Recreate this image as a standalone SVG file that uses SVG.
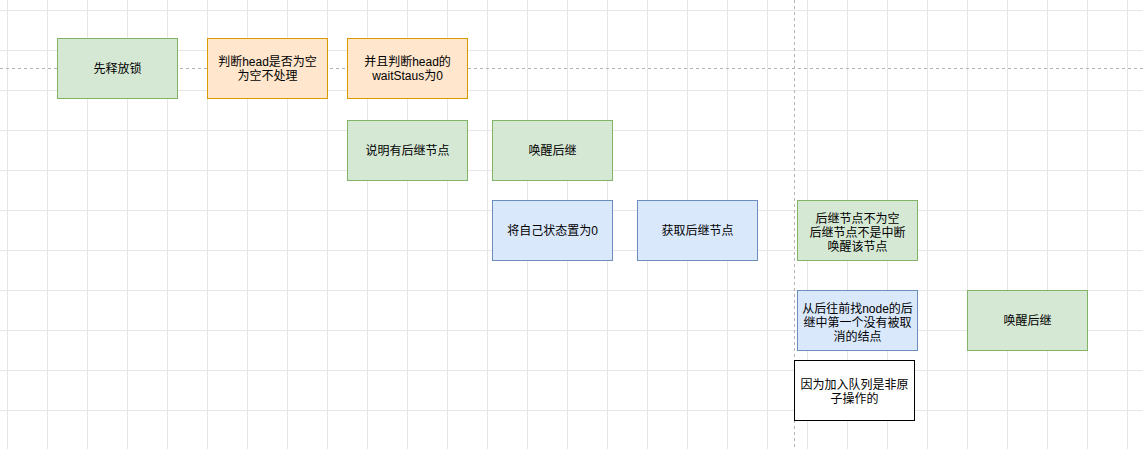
<svg xmlns="http://www.w3.org/2000/svg" width="1143" height="449" viewBox="0 0 1143 449">
<defs>
<pattern id="grid" x="7" y="10" width="40" height="40" patternUnits="userSpaceOnUse">
<path d="M0 0.5H40M0.5 0V40" fill="none" stroke="#e6e6e6" stroke-width="1"/>
</pattern>
<style>
.n rect{stroke-width:1}
.g rect{fill:#d5e8d4;stroke:#82b366}
.o rect{fill:#ffe6cc;stroke:#d79b00}
.b rect{fill:#dae8fc;stroke:#6c8ebf}
.w rect{fill:#ffffff;stroke:#000000}
text{font-family:"Liberation Sans","Noto Sans CJK SC",sans-serif;font-size:12px;fill:#000;text-anchor:middle}
.guide{stroke:#b3b3b3;stroke-width:1;stroke-dasharray:3 3;fill:none}
</style>
</defs>
<rect width="1143" height="449" fill="#ffffff"/>
<rect width="1143" height="449" fill="url(#grid)"/>
<g id="connectors">
<path class="guide" d="M0 68.5H1143"/>
<path class="guide" d="M794.5 0V449"/>
</g>
<g id="n1" class="n g"><rect x="57.5" y="38.5" width="120" height="60"/><text x="117.5" y="72.5">先释放锁</text></g>
<g id="n2" class="n o"><rect x="207.5" y="38.5" width="120" height="60"/><text x="267.5" y="65.5">判断head是否为空</text><text x="267.5" y="79.5">为空不处理</text></g>
<g id="n3" class="n o"><rect x="347.5" y="38.5" width="120" height="60"/><text x="407.5" y="65.5">并且判断head的</text><text x="407.5" y="79.5">waitStaus为0</text></g>
<g id="n4" class="n g"><rect x="347.5" y="120.5" width="120" height="60"/><text x="407.5" y="154.5">说明有后继节点</text></g>
<g id="n5" class="n g"><rect x="492.5" y="120.5" width="120" height="60"/><text x="552.5" y="154.5">唤醒后继</text></g>
<g id="n6" class="n b"><rect x="492.5" y="200.5" width="120" height="60"/><text x="552.5" y="234.5">将自己状态置为0</text></g>
<g id="n7" class="n b"><rect x="637.5" y="200.5" width="120" height="60"/><text x="697.5" y="234.5">获取后继节点</text></g>
<g id="n8" class="n g"><rect x="797.5" y="200.5" width="120" height="60"/><text x="857.5" y="222.5">后继节点不为空</text><text x="857.5" y="236.5">后继节点不是中断</text><text x="857.5" y="250.5">唤醒该节点</text></g>
<g id="n9" class="n b"><rect x="797.5" y="290.5" width="120" height="60"/><text x="857.5" y="312.5">从后往前找node的后</text><text x="857.5" y="326.5">继中第一个没有被取</text><text x="857.5" y="340.5">消的结点</text></g>
<g id="n10" class="n g"><rect x="967.5" y="290.5" width="120" height="60"/><text x="1027.5" y="324.5">唤醒后继</text></g>
<g id="n11" class="n w"><rect x="794.5" y="360.5" width="120" height="60"/><text x="854.5" y="388.5">因为加入队列是非原</text><text x="854.5" y="402.5">子操作的</text></g>
</svg>
